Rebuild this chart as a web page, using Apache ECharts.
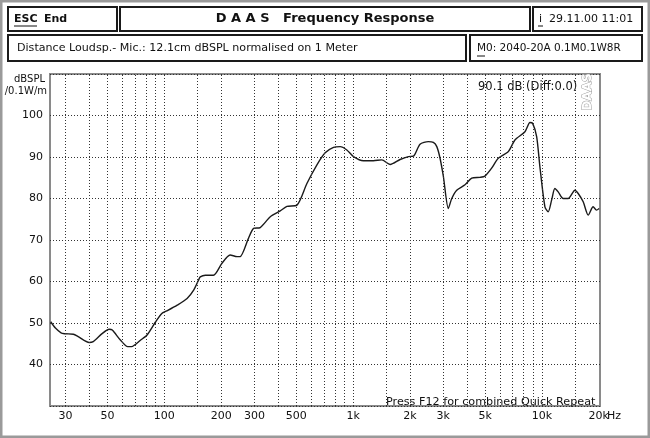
<!DOCTYPE html>
<html><head><meta charset="utf-8">
<script src="https://cdn.jsdelivr.net/npm/echarts@6/dist/echarts.min.js"></script>
<style>html,body{margin:0;padding:0;background:#fff}#c{width:650px;height:438px}</style>
</head><body><div id="c"></div>
<script>
const freqs = [25, 26.5, 28.8, 33, 35, 40, 42, 47, 51, 53, 58.5, 64, 67, 75, 81, 90, 97, 103, 117, 132, 143, 152, 155, 165, 182, 202, 223, 243, 252, 279, 297, 322, 364, 411, 446, 504, 569, 643, 711, 787, 853, 926, 1004, 1133, 1280, 1418, 1570, 1773, 1963, 2085, 2261, 2502, 2660, 2774, 2886, 3006, 3193, 3329, 3537, 3913, 4248, 4698, 4990, 5415, 5869, 6633, 7194, 8128, 8643, 8929, 9375, 9752, 10370, 10800, 11250, 11710, 12190, 12960, 13770, 14950, 15560, 16540, 17580, 18670, 19450, 20090];
const levels = [50.3, 48.8, 47.5, 47.3, 46.7, 45.3, 45.5, 47.5, 48.5, 48.3, 45.9, 44.3, 44.3, 45.9, 47.1, 50.3, 52.3, 52.9, 54.3, 55.9, 57.9, 60.4, 61.1, 61.5, 61.5, 64.4, 66.4, 66, 66, 70.4, 72.8, 73, 75.6, 77, 78.1, 78.4, 83.6, 88.1, 91, 92.3, 92.5, 91.7, 90.1, 89.1, 89.1, 89.3, 88.2, 89.4, 90.1, 90.2, 93.1, 93.7, 93.5, 92.5, 89.7, 85.3, 77.6, 80, 82, 83.3, 84.9, 85.1, 85.4, 87.3, 89.7, 91.3, 94.1, 96.1, 98.3, 98.1, 94.9, 87.7, 78, 76.8, 79.6, 82.4, 81.6, 80, 80, 82, 81.2, 79.2, 76, 78, 77.2, 77.6];
const xLabelValues = [30, 50, 100, 200, 300, 500, 1000, 2000, 3000, 5000, 10000, 20000];
const xLabelTexts = ['30', '50', '100', '200', '300', '500', '1k', '2k', '3k', '5k', '10k', '20k'];
const xGridValues = [30, 40, 50, 60, 70, 80, 90, 100, 150, 200, 300, 400, 500, 600, 700, 800, 900, 1000, 1500, 2000, 3000, 4000, 5000, 6000, 7000, 8000, 9000, 10000, 15000];

const chart = echarts.init(document.getElementById('c'), null, {renderer: 'canvas'});
const F = 'DejaVu Sans';
function box(x, y, w, h) {
  return {type: 'rect', shape: {x: x, y: y, width: w, height: h},
    style: {fill: '#fff', stroke: '#1a1a1a', lineWidth: 2}, z: 1};
}
function txt(x, y, t, opt) {
  opt = opt || {};
  return {type: 'text', x: x, y: y, z: 5, rotation: opt.rot || 0,
    style: {text: t, font: (opt.bold ? 'bold ' : '') + (opt.size || 10) + 'px "' + F + '"',
      fill: opt.fill || '#111', stroke: opt.stroke, lineWidth: opt.lw || 0,
      textAlign: opt.align || 'left', textVerticalAlign: 'middle'}};
}
function uline(x1, x2, y) {
  return {type: 'line', z: 5, shape: {x1: x1, y1: y, x2: x2, y2: y}, style: {stroke: '#111', lineWidth: 1}};
}
const labelMap = {};
xLabelValues.forEach((v, i) => labelMap[v] = xLabelTexts[i]);

chart.setOption({
  animation: false,
  backgroundColor: '#fff',
  grid: {left: 50, right: 50, top: 74, bottom: 32, show: true, borderColor: '#8a8a8a', borderWidth: 2, backgroundColor: 'transparent'},
  xAxis: {
    type: 'log', min: 24.8, max: 20300, logBase: 10,
    axisLine: {show: false}, axisTick: {show: false},
    splitLine: {show: false}, minorTick: {show: false},
    axisLabel: {customValues: xLabelValues, formatter: v => labelMap[Math.round(v)] || '', color: '#111',
      fontFamily: F, fontSize: 11, margin: 5}
  },
  yAxis: {
    type: 'value', min: 30, max: 110, interval: 10,
    axisLine: {show: false}, axisTick: {show: false},
    axisLabel: {color: '#111', fontFamily: F, fontSize: 11, margin: 7,
      formatter: v => (v === 30 || v === 110) ? '' : String(v)},
    splitLine: {show: true, lineStyle: {color: '#333', width: 1, type: [1, 2]}}
  },
  series: [{
    type: 'line', data: freqs.map((f, i) => [f, levels[i]]),
    showSymbol: false, smooth: 0.25, z: 3,
    lineStyle: {color: '#1a1a1a', width: 1.4},
    markLine: {silent: true, symbol: ['none', 'none'], label: {show: false}, animation: false,
      lineStyle: {color: '#333', width: 1, type: [1, 2]},
      data: xGridValues.map(v => ({xAxis: v}))}
  }],
  graphic: [
    {type: 'rect', shape: {x: 1, y: 1, width: 648, height: 436}, style: {fill: 'none', stroke: '#9a9a9a', lineWidth: 3}, z: 0},
    box(8, 7, 109, 24), box(120, 7, 410, 24), box(533, 7, 109, 24),
    box(8, 35, 458, 26), box(470, 35, 172, 26),
    txt(14, 19, 'ESC', {bold: true, size: 11}), uline(14, 37, 26),
    txt(44, 19, 'End', {bold: true, size: 11}),
    txt(325, 19, 'D A A S   Frequency Response', {bold: true, size: 13, align: 'center'}),
    txt(539, 19, 'i', {size: 11}), uline(538, 543, 26),
    txt(549, 19, '29.11.00 11:01', {size: 11}),
    txt(17, 48, 'Distance Loudsp.- Mic.: 12.1cm dBSPL normalised on 1 Meter', {size: 11.1}),
    txt(477, 48, 'M0: 2040-20A 0.1M0.1W8R', {size: 10.5}), uline(477, 485, 56),
    txt(45, 79, 'dBSPL', {size: 10, align: 'right'}),
    txt(47, 91, '/0.1W/m', {size: 10, align: 'right'}),
    txt(478, 87, '90.1 dB (Diff:0.0)', {size: 11.5}),
    txt(588, 92, 'DAAS', {size: 12, bold: true, rot: Math.PI / 2, align: 'center', fill: '#fff', stroke: '#999', lw: 1}),
    txt(386, 402, 'Press F12 for combined Quick Repeat', {size: 11.2}),
    txt(607, 416, 'Hz', {size: 11})
  ]
});
</script></body></html>
